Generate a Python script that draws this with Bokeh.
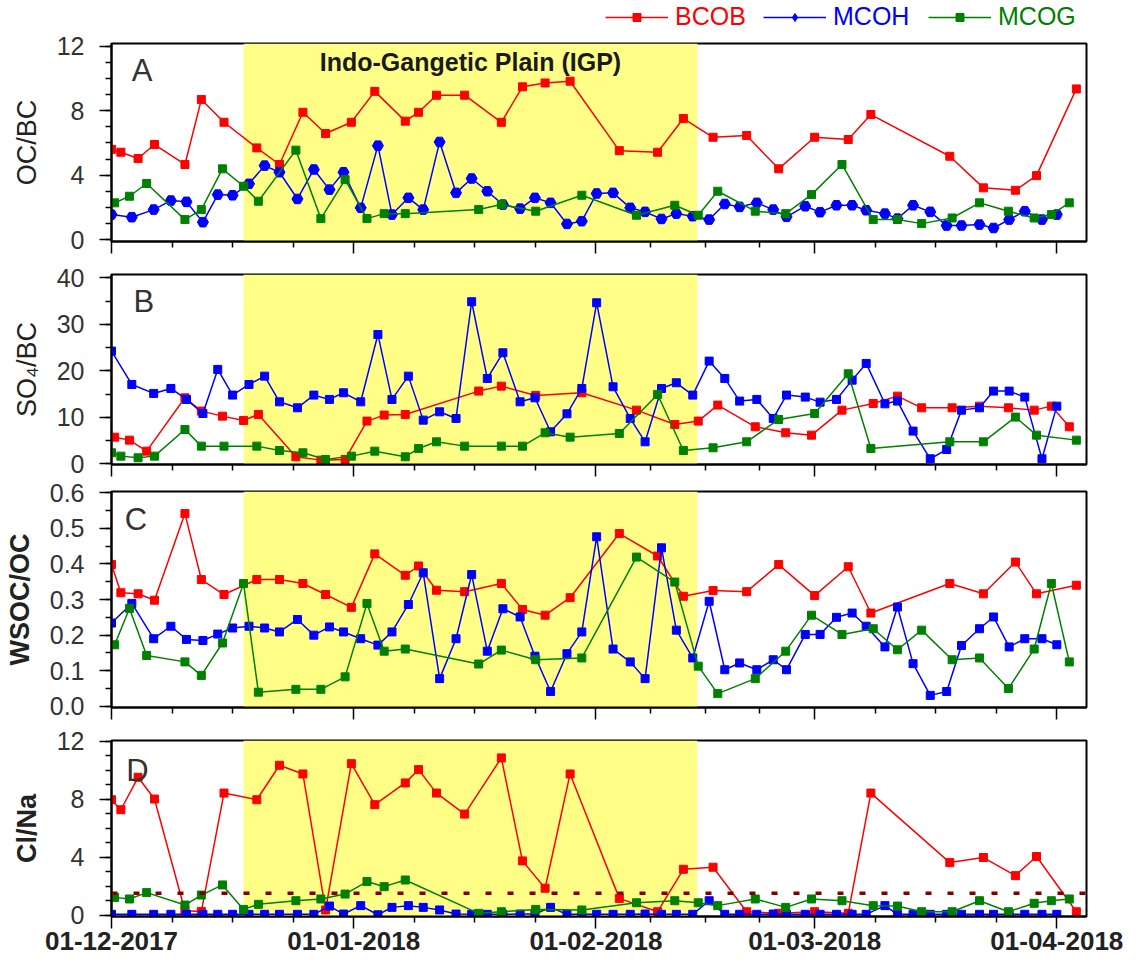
import pandas as pd
from bokeh.plotting import figure
from bokeh.layouts import column
from bokeh.models import (Range1d, FixedTicker, BoxAnnotation, Span, Label, Legend, LegendItem,
                          DatetimeTickFormatter, NumeralTickFormatter, CustomJSTickFormatter)
from bokeh.embed import file_html
from bokeh.resources import INLINE

START = pd.Timestamp("2017-12-01")

# sampling days (days after 01-12-2017)
bcob_days = [0, 1.2, 3.4, 5.5, 9.4, 11.5, 14.4, 18.6, 21.5, 24.5, 27.4, 30.7, 33.7, 37.6, 39.3,
             41.6, 45.2, 49.9, 52.6, 55.5, 58.7, 65.0, 69.9, 73.2, 77.0, 81.3, 85.4, 90.0, 94.3,
             97.2, 107.3, 111.6, 115.7, 118.4, 123.5]
mcoh_days = [0, 2.6, 5.4, 7.6, 9.6, 11.7, 13.6, 15.5, 17.6, 19.6, 21.5, 23.8, 25.9, 27.9, 29.7,
             31.9, 34.1, 35.9, 38.0, 39.9, 42.0, 44.1, 46.1, 48.1, 50.1, 52.3, 54.2, 56.2, 58.3,
             60.2, 62.1, 64.2, 66.4, 68.3, 70.4, 72.3, 74.4, 76.5, 78.5, 80.4, 82.6, 84.7, 86.4,
             88.8, 90.7, 92.8, 94.8, 96.6, 99.0, 100.6, 102.6, 104.8, 106.9, 108.8, 111.1, 112.9,
             114.9, 116.9, 119.1, 121.0]
mcog_days = [0.4, 2.3, 4.5, 9.4, 11.5, 14.2, 16.9, 18.8, 23.6, 26.8, 29.9, 32.7, 34.9, 37.6, 47.0,
             49.9, 54.3, 60.2, 67.2, 72.1, 75.1, 77.6, 82.4, 86.3, 89.6, 93.5, 97.5, 100.6, 103.7,
             107.6, 111.1, 114.8, 118.1, 120.3, 122.6]

# Panel A: OC/BC
ocbc_bcob = [5.6, 5.42, 5.03, 5.9, 4.66, 8.69, 7.28, 5.69, 4.66, 7.9, 6.58, 7.28, 9.2, 7.35, 7.9,
             8.96, 8.96, 7.28, 9.48, 9.72, 9.83, 5.52, 5.42, 7.51, 6.35, 6.46, 4.39, 6.35, 6.21,
             7.76, 5.17, 3.21, 3.06, 3.97, 9.35]
ocbc_mcoh = [1.55, 1.39, 1.86, 2.42, 2.34, 1.08, 2.79, 2.75, 3.46, 4.59, 4.18, 2.52, 4.35, 3.10,
             4.18, 1.97, 5.83, 1.55, 2.59, 1.86, 6.06, 2.90, 3.79, 3.0, 2.17, 1.92, 2.59, 2.28,
             0.97, 1.14, 2.86, 2.90, 1.97, 1.72, 1.28, 1.61, 1.45, 1.24, 2.21, 2.03, 2.28, 1.86,
             1.41, 2.07, 1.70, 2.13, 2.13, 1.82, 1.61, 1.3, 2.13, 1.72, 0.87, 0.87, 0.93, 0.72,
             1.24, 1.76, 1.24, 1.55]
ocbc_mcog = [2.28, 2.69, 3.48, 1.24, 1.86, 4.39, 3.31, 2.38, 5.55, 1.30, 3.72, 1.30, 1.61, 1.61,
             1.86, 2.17, 1.76, 2.75, 1.51, 2.13, 1.51, 3.0, 1.76, 1.61, 2.79, 4.66, 1.24, 1.24,
             0.99, 1.34, 2.28, 1.76, 1.34, 1.55, 2.28]

# Panel B: SO4/BC (BCOB plotted on the MCOG sampling days, MCOG on the BCOB days)
so4bc_bcob = [5.73, 5.09, 2.72, 14.19, 11.33, 10.25, 9.32, 10.61, 1.51, 0.79, 0.93, 9.18, 10.47,
              10.61, 15.63, 16.70, 14.70, 15.27, 11.54, 8.46, 9.18, 12.62, 7.96, 6.67, 6.16,
              11.54, 12.97, 14.55, 12.04, 12.04, 12.4, 12.04, 11.54, 12.4, 7.96]
so4bc_mcoh = [24.23, 17.06, 15.13, 16.20, 13.84, 10.82, 20.29, 14.77, 17.06, 18.85, 13.33, 12.04,
              14.77, 13.84, 15.27, 13.33, 27.81, 13.84, 18.85, 9.39, 11.18, 9.75, 34.84, 18.35,
              23.87, 13.33, 14.19, 6.88, 10.75, 16.20, 34.62, 16.56, 9.75, 4.73, 16.20, 17.42,
              14.77, 22.08, 18.35, 13.48, 13.84, 9.75, 14.77, 14.34, 13.26, 13.84, 17.99, 21.58,
              12.90, 13.48, 7.03, 1.08, 3.08, 11.54, 12.04, 15.63, 15.63, 14.34, 1.08, 12.4]
so4bc_mcog = [2.37, 1.65, 1.29, 1.65, 7.38, 3.80, 3.80, 3.80, 2.87, 2.37, 0.93, 1.65, 2.72, 1.51,
              3.30, 4.73, 3.80, 3.80, 3.80, 6.67, 5.73, 6.52, 14.91, 2.87, 3.44, 4.73, 9.53,
              10.82, 19.35, 3.30, 4.73, 4.73, 10.04, 6.16, 5.09]

# Panel C: WSOC/OC
wsoc_bcob = [0.398, 0.319, 0.316, 0.298, 0.541, 0.356, 0.314, 0.356, 0.356, 0.345, 0.314, 0.278,
             0.428, 0.368, 0.394, 0.326, 0.322, 0.345, 0.272, 0.256, 0.305, 0.485, 0.422, 0.309,
             0.325, 0.322, 0.398, 0.311, 0.392, 0.262, 0.345, 0.316, 0.405, 0.316, 0.340]
wsoc_mcoh = [0.234, 0.289, 0.190, 0.225, 0.188, 0.185, 0.203, 0.220, 0.225, 0.220, 0.209, 0.244,
             0.200, 0.223, 0.209, 0.190, 0.172, 0.209, 0.286, 0.375, 0.078, 0.190, 0.370, 0.155,
             0.274, 0.251, 0.141, 0.042, 0.148, 0.209, 0.476, 0.161, 0.125, 0.078, 0.445, 0.214,
             0.136, 0.295, 0.103, 0.122, 0.103, 0.131, 0.103, 0.202, 0.202, 0.250, 0.262, 0.225,
             0.167, 0.279, 0.120, 0.031, 0.042, 0.171, 0.218, 0.251, 0.167, 0.190, 0.190, 0.173]
wsoc_mcog = [0.173, 0.275, 0.143, 0.125, 0.087, 0.178, 0.345, 0.040, 0.048, 0.048, 0.083, 0.289,
             0.155, 0.161, 0.119, 0.158, 0.131, 0.136, 0.419, 0.349, 0.113, 0.036, 0.078, 0.155,
             0.256, 0.202, 0.218, 0.159, 0.214, 0.131, 0.136, 0.050, 0.161, 0.345, 0.125]

# Panel D: Cl/Na
clna_bcob = [7.96, 7.27, 9.51, 8.01, 0.3, 0.25, 8.42, 7.96, 10.34, 9.74, 0.35, 10.45, 7.62, 9.12,
             10.04, 8.42, 6.97, 10.85, 3.74, 1.85, 9.74, 1.15, 0.23, 3.16, 3.30, 0.23, 0.12, 0.23,
             0.12, 8.42, 3.62, 3.97, 2.72, 4.04, 0.23]
clna_mcoh = [0.05, 0.05, 0.05, 0.05, 0.05, 0.05, 0.05, 0.05, 0.05, 0.05, 0.05, 0.05, 0.05, 0.62,
             0.07, 0.65, 0.02, 0.53, 0.65, 0.53, 0.35, 0.07, 0.05, 0.05, 0.05, 0.07, 0.07, 0.53,
             0.05, 0.05, 0.05, 0.05, 0.05, 0.07, 0.05, 0.05, 0.05, 0.99, 0.05, 0.05, 0.05, 0.07,
             0.05, 0.05, 0.05, 0.05, 0.05, 0.05, 0.65, 0.05, 0.05, 0.05, 0.05, 0.05, 0.05, 0.05,
             0.05, 0.05, 0.05, 0.05]
clna_mcog = [1.22, 1.11, 1.55, 0.69, 1.38, 2.08, 0.39, 0.74, 0.99, 1.11, 1.45, 2.31, 1.96, 2.42,
             0.12, 0.23, 0.39, 0.35, 0.85, 0.99, 0.85, 0.65, 1.11, 0.53, 1.11, 0.99, 0.65, 0.62,
             0.23, 0.23, 0.99, 0.23, 0.81, 0.99, 1.11]
clna_ref = 1.5

month_starts = ["2017-12-01", "2018-01-01", "2018-02-01", "2018-03-01", "2018-04-01"]
igp_start, igp_end = 16.9, 75.0
x_end_day = 124.8

COLORS = {"BCOB": "#FF0000", "MCOH": "#0000FF", "MCOG": "#008000"}
LEGEND_MARKERS = {"BCOB": "square", "MCOH": "diamond", "MCOG": "square"}
FONT = "Liberation Sans"
FIG_W = 1131
LEFT = 111


def ms(day):
    return (START + pd.Timedelta(days=day)).value / 1e6


major_x = [pd.Timestamp(m).value / 1e6 for m in month_starts]
minor_x = []
for a, b in zip(major_x[:-1], major_x[1:]):
    minor_x += [a + k * (b - a) / 4 for k in range(1, 4)]

x_range = Range1d(ms(0), ms(x_end_day))
date_fmt = "%d-%m-%Y"


def make_panel(height, top, bottom, yr, yticks, yminor, ylabel, bold, std, letter, letter_pos,
               series, last=False, numfmt=None):
    p = figure(width=FIG_W, height=height, x_axis_type="datetime", x_range=x_range,
               y_range=Range1d(*yr), output_backend="svg", toolbar_location=None,
               min_border_left=LEFT, min_border_right=45, min_border_top=top,
               min_border_bottom=bottom)
    p.grid.visible = False
    p.outline_line_color = "black"
    p.outline_line_width = 2
    p.background_fill_color = "white"
    p.add_layout(BoxAnnotation(left=ms(igp_start), right=ms(igp_end), fill_color="#FFFF88",
                               fill_alpha=1.0, line_alpha=0, level="underlay"))
    for name, days, vals, marker, size in series:
        xs = [ms(d) for d in days]
        p.line(xs, vals, line_color=COLORS[name], line_width=1.5)
        p.scatter(xs, vals, marker=marker, size=size, fill_color=COLORS[name],
                  line_color=COLORS[name])

    ya = p.yaxis[0]
    ya.ticker = FixedTicker(ticks=yticks, minor_ticks=yminor)
    if numfmt:
        ya.formatter = NumeralTickFormatter(format=numfmt)
    ya.axis_line_width = 2
    ya.major_tick_out = 12
    ya.major_tick_in = 0
    ya.minor_tick_out = 6
    ya.minor_tick_in = 0
    ya.major_tick_line_width = 1.5
    ya.minor_tick_line_width = 1.5
    ya.major_label_text_font = FONT
    ya.major_label_text_font_size = "25px"
    ya.major_label_text_color = "#333333"
    ya.major_label_standoff = 15
    ya.axis_label = ylabel
    ya.axis_label_text_font = FONT
    ya.axis_label_text_font_size = "27px"
    ya.axis_label_text_font_style = "bold" if bold else "normal"
    ya.axis_label_text_color = "#222222"
    ya.axis_label_standoff = std

    xa = p.xaxis[0]
    xa.ticker = FixedTicker(ticks=major_x, minor_ticks=minor_x)
    xa.axis_line_width = 2
    xa.major_tick_out = 12
    xa.major_tick_in = 0
    xa.minor_tick_out = 6
    xa.minor_tick_in = 0
    xa.major_tick_line_width = 1.5
    xa.minor_tick_line_width = 1.5
    if last:
        xa.formatter = DatetimeTickFormatter(milliseconds=date_fmt, seconds=date_fmt,
                                             minsec=date_fmt, minutes=date_fmt,
                                             hourmin=date_fmt, hours=date_fmt, days=date_fmt,
                                             months=date_fmt, years=date_fmt)
        xa.major_label_text_font = FONT
        xa.major_label_text_font_style = "bold"
        xa.major_label_text_font_size = "26px"
        xa.major_label_text_color = "#222222"
        xa.major_label_standoff = 3
    else:
        xa.formatter = CustomJSTickFormatter(code="return ''")
        xa.major_label_text_font_size = "0px"
        xa.major_label_standoff = 0

    lx, ly = letter_pos
    p.add_layout(Label(x=ms(lx), y=ly, text=letter, text_font=FONT, text_font_size="31px",
                       text_color="#333333", text_align="left", text_baseline="middle"))
    return p


# legend strip above panel A (its frame is aligned with the panels' frames)
pL = figure(width=FIG_W, height=31, x_range=Range1d(0, 1), y_range=Range1d(0, 1),
            output_backend="svg", toolbar_location=None, x_axis_location=None,
            y_axis_location=None, min_border_left=0, min_border_right=0, min_border_top=0,
            min_border_bottom=0)
pL.outline_line_color = None
pL.grid.visible = False
nan = float("nan")
for name, gx in [("BCOB", 494), ("MCOH", 652), ("MCOG", 817)]:
    ln = pL.line(x=[nan], y=[nan], line_color=COLORS[name], line_width=1.5)
    sc = pL.scatter(x=[nan], y=[nan], marker=LEGEND_MARKERS[name], size=8,
                    fill_color=COLORS[name], line_color=COLORS[name])
    lg = Legend(items=[LegendItem(label=name, renderers=[ln, sc])], location=(gx, 0),
                orientation="horizontal", glyph_width=63, glyph_height=20, label_standoff=7,
                label_text_color=COLORS[name], label_text_font=FONT, label_text_font_size="25px",
                border_line_alpha=0, background_fill_alpha=0, padding=0, margin=0, spacing=0)
    pL.add_layout(lg)

pA = make_panel(12 + 198 + 16, 12, 16, (-0.12, 12.17), [0, 4, 8, 12], list(range(13)), "OC/BC",
                False, 12, "A", (2.6, 10.5),
                [("BCOB", bcob_days, ocbc_bcob, "square", 8),
                 ("MCOH", mcoh_days, ocbc_mcoh, "hex", 11),
                 ("MCOG", mcog_days, ocbc_mcog, "square", 8)])
pB = make_panel(221, 17, 14, (-0.15, 40.7), [0, 10, 20, 30, 40], list(range(0, 41, 5)),
                "SO₄/BC", False, 12, "B", (2.8, 34.9),
                [("BCOB", mcog_days, so4bc_bcob, "square", 8),
                 ("MCOH", mcoh_days, so4bc_mcoh, "square", 8),
                 ("MCOG", bcob_days, so4bc_mcog, "square", 8)])
pC = make_panel(245, 13, 16, (-0.003, 0.603), [0, 0.1, 0.2, 0.3, 0.4, 0.5, 0.6],
                [i * 0.05 for i in range(13)], "WSOC/OC", True, 12, "C", (1.7, 0.525),
                [("BCOB", bcob_days, wsoc_bcob, "square", 8),
                 ("MCOH", mcoh_days, wsoc_mcoh, "square", 8),
                 ("MCOG", mcog_days, wsoc_mcog, "square", 8)], numfmt="0.0")
pD = make_panel(243, 17, 50, (-0.1, 12.05), [0, 4, 8, 12], list(range(13)), "Cl/Na", True,
                12, "D", (1.9, 10.0),
                [("BCOB", bcob_days, clna_bcob, "square", 8),
                 ("MCOH", mcoh_days, clna_mcoh, "square", 8),
                 ("MCOG", mcog_days, clna_mcog, "square", 8)], last=True)

pD.add_layout(Span(location=clna_ref, dimension="width", line_color="#800000", line_width=3.5,
                   line_dash="6 16"))

pA.add_layout(Label(x=ms((igp_start + igp_end) / 2), y=11.0, text="Indo-Gangetic Plain (IGP)",
                    text_font=FONT, text_font_style="bold", text_font_size="25px",
                    text_color="#1a1a1a", text_align="center", text_baseline="middle"))

layout = column(pL, pA, pB, pC, pD, spacing=0)
open("out.html", "w").write(file_html(layout, INLINE))
